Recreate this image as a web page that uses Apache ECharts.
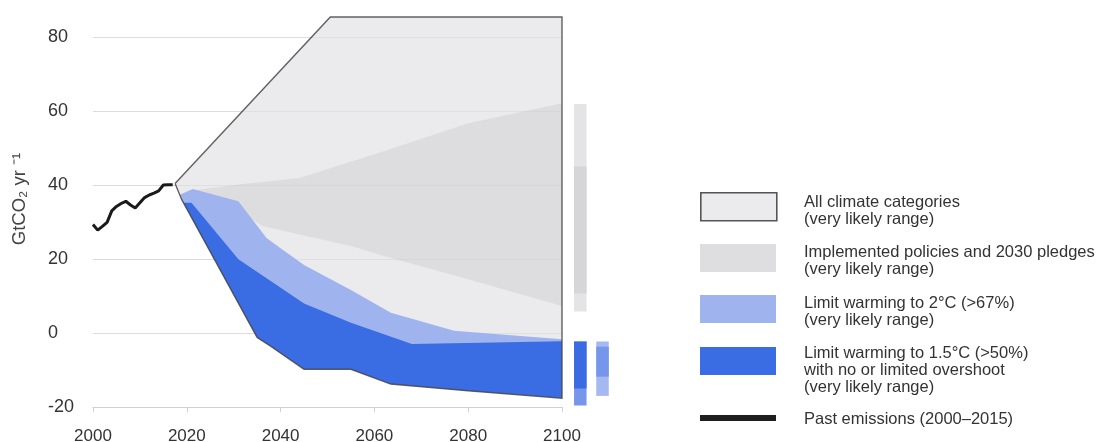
<!DOCTYPE html>
<html>
<head>
<meta charset="utf-8">
<script src="https://cdn.jsdelivr.net/npm/echarts@6/dist/echarts.min.js"></script>
<style>
html,body{margin:0;padding:0;background:#fff;}
#chart{width:1105px;height:442px;}
</style>
</head>
<body>
<div id="chart"></div>
<script>
// ---------- DATA ----------
const xTicks = [2000, 2020, 2040, 2060, 2080, 2100];
const yTicks = [-20, 0, 20, 40, 60, 80];

const pastYears = [2000,2001,2002,2003,2004,2005,2006,2007,2008,2009,2010,2011,2012,2013,2014,2015,2016,2017];
const pastEmissions = [29.3,27.8,28.8,29.9,33.0,34.2,35.0,35.6,34.6,33.8,35.2,36.6,37.3,37.8,38.4,40.0,40.1,40.1];

// All climate categories envelope
const allUpper = [[2017.5,40.4],[2050.6,85.4],[2100,85.4]];
const allLower = [[2017.5,40.4],[2018.9,36.1],[2035,-1.2],[2037.8,-3.5],[2045,-9.8],[2055,-9.8],[2063.5,-13.8],[2080,-15.6],[2100,-17.6]];

// Implemented policies and 2030 pledges
const policiesUpper = [[2019.9,38.3],[2030,40.0],[2044,41.9],[2062,49.1],[2080,56.7],[2100,62.1]];
const policiesLower = [[2019.9,38.0],[2030,34.0],[2036,29.0],[2044,26.6],[2055,23.5],[2062,20.8],[2080,14.5],[2100,7.3]];

// Limit warming to 2°C (>67%)
const twoUpper = [[2018.6,37.4],[2021.3,38.9],[2031,35.6],[2037,25.7],[2040,22.9],[2045,18.4],[2055,11.6],[2063.5,5.5],[2077,0.6],[2100,-1.7]];

// Limit warming to 1.5°C (>50%)
const onePointFiveUpper = [[2018.9,36.1],[2019.2,35.2],[2021,35.2],[2031,19.9],[2045,8.0],[2055,2.8],[2068,-3.0],[2100,-2.2]];
const onePointFiveLower = [[2018.9,36.1],[2035,-1.2],[2037.8,-3.5],[2045,-9.8],[2055,-9.8],[2063.5,-13.8],[2080,-15.6],[2100,-17.6]];

// 2100 side bars
const sideCategories = ['a', 'b'];
const sideGrayRange = [5.8, 61.9];
const sideGrayLikely = [10.7, 45.0];
const side15Range = [-19.6, -2.3];
const side15Likely = [-15.0, -2.3];
const side2Range = [-17.0, -2.3];
const side2Likely = [-11.8, -3.7];

const legendItems = [
  ['All climate categories', '(very likely range)'],
  ['Implemented policies and 2030 pledges', '(very likely range)'],
  ['Limit warming to 2°C (>67%)', '(very likely range)'],
  ['Limit warming to 1.5°C (>50%)', 'with no or limited overshoot', '(very likely range)'],
  ['Past emissions (2000–2015)']
];

// ---------- STYLE ----------
const FONT = '"Liberation Sans", Arial, Helvetica, sans-serif';
const C_ALL = 'rgba(224,224,229,0.65)';
const C_POL = 'rgba(200,200,203,0.40)';
const C_TWO = '#9fb4ee';
const C_15 = '#3a6ce4';

function polygonSeries(upper, lower, fill, z) {
  return {
    type: 'custom', xAxisIndex: 0, yAxisIndex: 0, clip: false, z: z, silent: true,
    data: [[upper[0][0], upper[0][1]]],
    renderItem: function (params, api) {
      const pts = upper.map(p => api.coord(p)).concat(lower.slice().reverse().map(p => api.coord(p)));
      return { type: 'polygon', shape: { points: pts }, style: { fill: fill } };
    }
  };
}

function outlineSeries() {
  return {
    type: 'custom', xAxisIndex: 0, yAxisIndex: 0, clip: false, z: 10, silent: true,
    data: [[2050, 0]],
    renderItem: function (params, api) {
      const pts = allUpper.map(p => api.coord(p)).concat(allLower.slice().reverse().map(p => api.coord(p)));
      pts.push(pts[0]);
      return { type: 'polyline', shape: { points: pts }, style: { stroke: 'rgba(70,70,70,0.85)', lineWidth: 1.4, fill: null } };
    }
  };
}

function sideBar(cat, range, fill, z) {
  return {
    type: 'custom', xAxisIndex: 1, yAxisIndex: 1, clip: false, z: z, silent: true,
    data: [[cat, range[0], range[1]]],
    renderItem: function (params, api) {
      const a = api.coord([api.value(0), api.value(1)]);
      const b = api.coord([api.value(0), api.value(2)]);
      const w = 12.5;
      return { type: 'rect', shape: { x: a[0] - w / 2, y: b[1], width: w, height: a[1] - b[1] }, style: { fill: fill } };
    }
  };
}

// legend graphics
const legendGraphics = [];
const swatchTop = [192, 244, 295, 347];
const swatchFill = ['#ebebed', '#dedee0', C_TWO, C_15];
for (let i = 0; i < 4; i++) {
  legendGraphics.push({
    type: 'rect', left: 700, top: swatchTop[i],
    shape: { width: 76, height: 28 },
    style: i === 0 ? { fill: swatchFill[i], stroke: '#555', lineWidth: 1.6 } : { fill: swatchFill[i] }
  });
}
legendGraphics.push({ type: 'rect', left: 700, top: 415, shape: { width: 76, height: 6 }, style: { fill: '#1e1e1e' } });
const textFirstY = [202.5, 252, 303, 353, 419];
legendItems.forEach((lines, i) => {
  lines.forEach((t, j) => {
    legendGraphics.push({
      type: 'text', x: 804, y: textFirstY[i] + j * 17.3,
      style: { text: t, fill: '#333', font: '16.5px ' + FONT, textVerticalAlign: 'middle', textAlign: 'left' }
    });
  });
});
legendGraphics.push({
  type: 'text', x: 20, y: 199, rotation: Math.PI / 2,
  style: { text: 'GtCO₂ yr ⁻¹', fill: '#444', font: '18.5px ' + FONT, textAlign: 'center', textVerticalAlign: 'middle' }
});

const chart = echarts.init(document.getElementById('chart'), null, { renderer: 'canvas' });
chart.setOption({
  animation: false,
  backgroundColor: '#fff',
  grid: [
    { left: 93, right: 543, top: 37, bottom: 35, containLabel: false, outerBoundsMode: 'none' },
    { left: 569.2, width: 44.4, top: 37, bottom: 35, containLabel: false, outerBoundsMode: 'none' }
  ],
  xAxis: [
    {
      type: 'value', gridIndex: 0, min: xTicks[0], max: xTicks[xTicks.length - 1], interval: 20,
      axisLine: { show: true, onZero: false, lineStyle: { color: '#d0d0d0', width: 1 } },
      axisTick: { show: true, length: 5, lineStyle: { color: '#d0d0d0' } },
      axisLabel: { color: '#333', fontSize: 17, fontFamily: FONT, margin: 21, formatter: v => String(v) },
      splitLine: { show: false }
    },
    { type: 'category', gridIndex: 1, data: sideCategories, show: false }
  ],
  yAxis: [
    {
      type: 'value', gridIndex: 0, min: yTicks[0], max: yTicks[yTicks.length - 1], interval: 20,
      axisLine: { show: false }, axisTick: { show: false },
      axisLabel: { color: '#333', fontSize: 18, fontFamily: FONT, align: 'left', margin: 45 },
      splitLine: { show: true, lineStyle: { color: '#dcdcdc', width: 1 } }
    },
    { type: 'value', gridIndex: 1, min: yTicks[0], max: yTicks[yTicks.length - 1], show: false }
  ],
  graphic: legendGraphics,
  series: [
    polygonSeries(allUpper, allLower, C_ALL, 2),
    polygonSeries(policiesUpper, policiesLower, C_POL, 3),
    polygonSeries(twoUpper, onePointFiveLower, C_TWO, 4),
    polygonSeries(onePointFiveUpper, onePointFiveLower, C_15, 5),
    outlineSeries(),
    {
      type: 'line', xAxisIndex: 0, yAxisIndex: 0, z: 11,
      data: pastYears.map((y, i) => [y, pastEmissions[i]]),
      showSymbol: false, symbol: 'none',
      lineStyle: { color: '#1a1a1a', width: 3 }
    },
    sideBar(0, sideGrayRange, '#e4e4e6', 2),
    sideBar(0, sideGrayLikely, '#d6d6d8', 3),
    sideBar(0, side15Range, '#7596ea', 2),
    sideBar(0, side15Likely, '#3a6be2', 3),
    sideBar(1, side2Range, '#a5b8f0', 2),
    sideBar(1, side2Likely, '#7596ea', 3)
  ]
});
</script>
</body>
</html>
